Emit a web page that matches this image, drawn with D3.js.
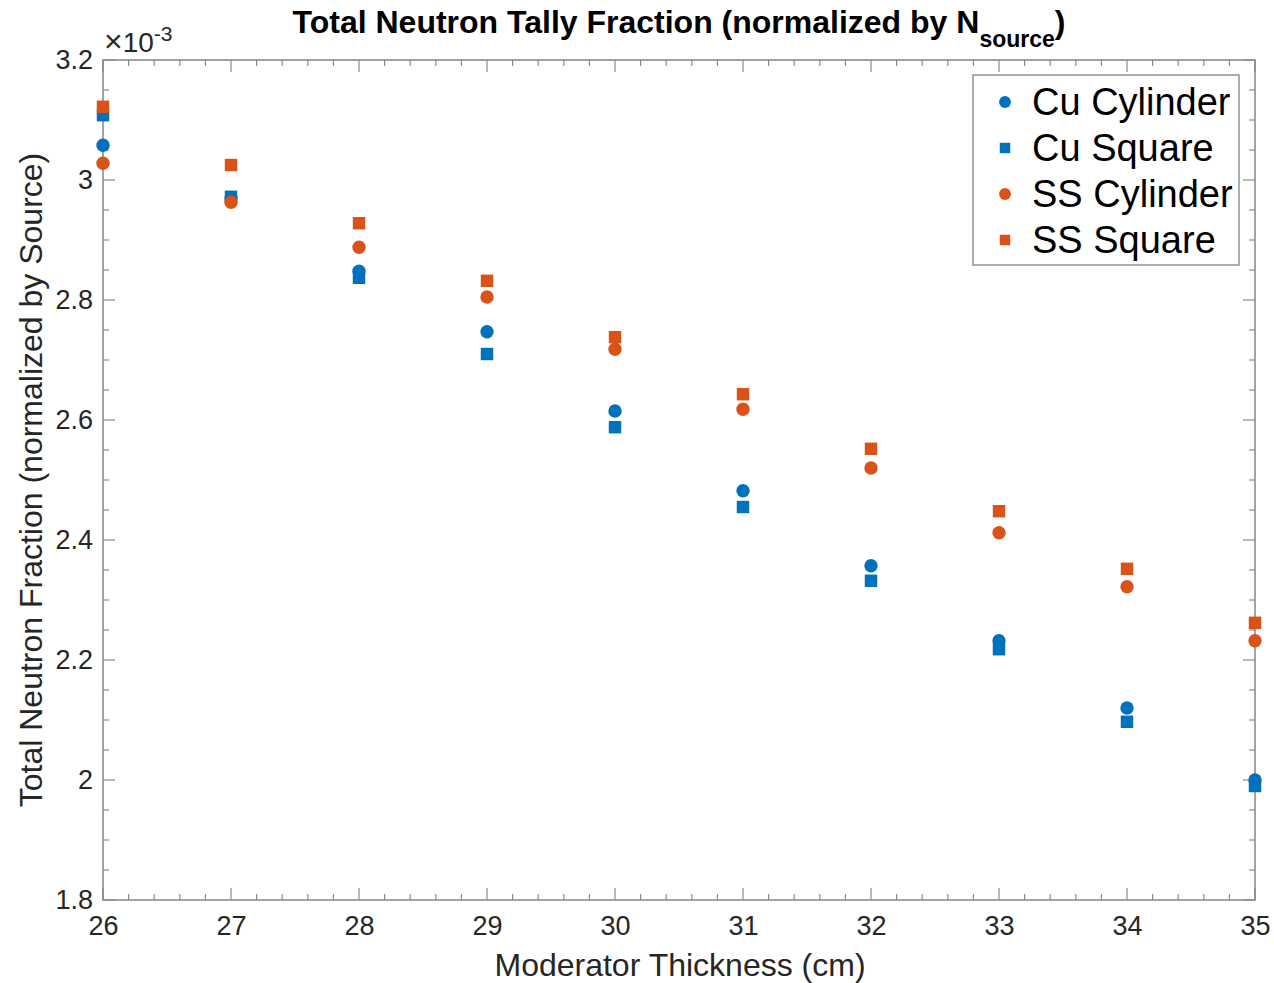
<!DOCTYPE html>
<html>
<head>
<meta charset="utf-8">
<script src="https://cdn.jsdelivr.net/npm/d3@7"></script>
<style>
  body { margin: 0; background: #fff; }
  text { font-family: 'Liberation Sans', Arial, sans-serif; }
</style>
</head>
<body>
<svg></svg>
<script>
const width = 1274;
const height = 983;

// moderator thickness (cm)
const thickness = [26, 27, 28, 29, 30, 31, 32, 33, 34, 35];
// tally fraction, in units of 1e-3
const cuCylinder = [3.058, 2.970, 2.848, 2.747, 2.615, 2.482, 2.357, 2.232, 2.120, 2.000];
const cuSquare   = [3.108, 2.972, 2.837, 2.710, 2.588, 2.455, 2.332, 2.218, 2.097, 1.990];
const ssCylinder = [3.028, 2.963, 2.888, 2.805, 2.718, 2.618, 2.520, 2.412, 2.322, 2.232];
const ssSquare   = [3.122, 3.025, 2.928, 2.832, 2.738, 2.643, 2.552, 2.448, 2.352, 2.262];

const seriesNames = ['Cu Cylinder', 'Cu Square', 'SS Cylinder', 'SS Square'];
const xTicks = [26, 27, 28, 29, 30, 31, 32, 33, 34, 35];
const yTicks = [1.8, 2, 2.2, 2.4, 2.6, 2.8, 3, 3.2];

const blue = '#0072BD';
const orange = '#D95319';

const series = [
    {name: seriesNames[0], values: cuCylinder, color: blue, shape: 'circle'},
    {name: seriesNames[1], values: cuSquare, color: blue, shape: 'square'},
    {name: seriesNames[2], values: ssCylinder, color: orange, shape: 'circle'},
    {name: seriesNames[3], values: ssSquare, color: orange, shape: 'square'}
];

const margin = {left: 103, right: width - 1255, top: 60, bottom: height - 900};
const innerW = width - margin.left - margin.right;
const innerH = height - margin.top - margin.bottom;

const svg = d3.select('svg')
    .attr('width', width)
    .attr('height', height);
const g = svg.append('g')
    .attr('transform', `translate(${margin.left},${margin.top})`);

const x = d3.scaleLinear().domain([26, 35]).range([0, innerW]);
const y = d3.scaleLinear().domain([1.8, 3.2]).range([innerH, 0]);

const axisColor = '#8c8c8c';
const labelColor = '#262626';

// minor ticks
const xMinor = d3.range(26, 35.001, 0.2).map(d => +d.toFixed(1));
const yMinor = d3.range(1.8, 3.2001, 0.05).map(d => +d.toFixed(2));
const isMajorY = d => yTicks.some(t => Math.abs(t - d) < 1e-6);

g.selectAll('.xminor-b').data(xMinor).enter().append('line')
    .attr('x1', d => x(d)).attr('x2', d => x(d))
    .attr('y1', innerH).attr('y2', d => innerH - (xTicks.includes(d) ? 12 : 6))
    .attr('stroke', axisColor).attr('stroke-width', 1.2);
g.selectAll('.xminor-t').data(xMinor).enter().append('line')
    .attr('x1', d => x(d)).attr('x2', d => x(d))
    .attr('y1', 0).attr('y2', d => (xTicks.includes(d) ? 12 : 6))
    .attr('stroke', axisColor).attr('stroke-width', 1.2);
g.selectAll('.yminor-l').data(yMinor).enter().append('line')
    .attr('y1', d => y(d)).attr('y2', d => y(d))
    .attr('x1', 0).attr('x2', d => (isMajorY(d) ? 12 : 6))
    .attr('stroke', axisColor).attr('stroke-width', 1.2);
g.selectAll('.yminor-r').data(yMinor).enter().append('line')
    .attr('y1', d => y(d)).attr('y2', d => y(d))
    .attr('x1', innerW).attr('x2', d => innerW - (isMajorY(d) ? 12 : 6))
    .attr('stroke', axisColor).attr('stroke-width', 1.2);

// axis box
g.append('rect')
    .attr('width', innerW).attr('height', innerH)
    .attr('fill', 'none')
    .attr('stroke', axisColor)
    .attr('stroke-width', 1.6);

// tick labels via d3 axes
const xAxis = g.append('g')
    .attr('transform', `translate(0,${innerH})`)
    .call(d3.axisBottom(x).tickValues(xTicks).tickSize(0).tickPadding(13).tickFormat(d3.format('d')));
const yAxis = g.append('g')
    .call(d3.axisLeft(y).tickValues(yTicks).tickSize(0).tickPadding(10).tickFormat(d => d3.format('')(+d.toFixed(1))));
[xAxis, yAxis].forEach(a => {
    a.select('.domain').remove();
    a.selectAll('text')
        .attr('font-size', 27)
        .attr('fill', labelColor)
        .attr('font-family', "'Liberation Sans', Arial, sans-serif");
});
xAxis.selectAll('text').attr('dy', '0.8em');

// exponent label
const expo = svg.append('text')
    .attr('x', 104).attr('y', 52)
    .attr('font-size', 28)
    .attr('fill', labelColor);
expo.append('tspan').attr('font-size', 32).text('\u00d7');
expo.append('tspan').text('10');
expo.append('tspan').attr('dy', -11).attr('font-size', 21).text('-3');

// markers
const symbolFor = shape => shape === 'circle'
    ? d3.symbol().type(d3.symbolCircle).size(140)
    : d3.symbol().type(d3.symbolSquare).size(155);

series.forEach(s => {
    g.append('g').selectAll('path')
        .data(thickness.map((t, i) => [t, s.values[i]]))
        .enter().append('path')
        .attr('d', symbolFor(s.shape))
        .attr('transform', d => `translate(${x(d[0])},${y(d[1])})`)
        .attr('fill', s.color);
});

// title
const title = svg.append('text')
    .attr('x', 679).attr('y', 33)
    .attr('text-anchor', 'middle')
    .attr('font-size', 32)
    .attr('font-weight', 'bold')
    .attr('fill', '#000');
title.append('tspan').text('Total Neutron Tally Fraction (normalized by N');
title.append('tspan').attr('dy', 14).attr('font-size', 23).text('source');
title.append('tspan').attr('dy', -14).text(')');

// axis labels
svg.append('text')
    .attr('x', 680).attr('y', 976)
    .attr('text-anchor', 'middle')
    .attr('font-size', 32)
    .attr('fill', labelColor)
    .text('Moderator Thickness (cm)');
svg.append('text')
    .attr('transform', 'translate(42,480) rotate(-90)')
    .attr('text-anchor', 'middle')
    .attr('font-size', 32)
    .attr('fill', labelColor)
    .text('Total Neutron Fraction (normalized by Source)');

// legend
const legend = svg.append('g').attr('transform', 'translate(973,75)');
legend.append('rect')
    .attr('width', 266).attr('height', 190)
    .attr('fill', '#fff')
    .attr('stroke', axisColor)
    .attr('stroke-width', 1.4);
series.forEach((s, i) => {
    const row = legend.append('g').attr('transform', `translate(32,${27 + i * 46})`);
    row.append('path')
        .attr('d', s.shape === 'circle'
            ? d3.symbol().type(d3.symbolCircle).size(110)()
            : d3.symbol().type(d3.symbolSquare).size(110)())
        .attr('fill', s.color);
    row.append('text')
        .attr('x', 27).attr('y', 13)
        .attr('font-size', 38)
        .attr('fill', '#000')
        .text(s.name);
});
</script>
</body>
</html>
